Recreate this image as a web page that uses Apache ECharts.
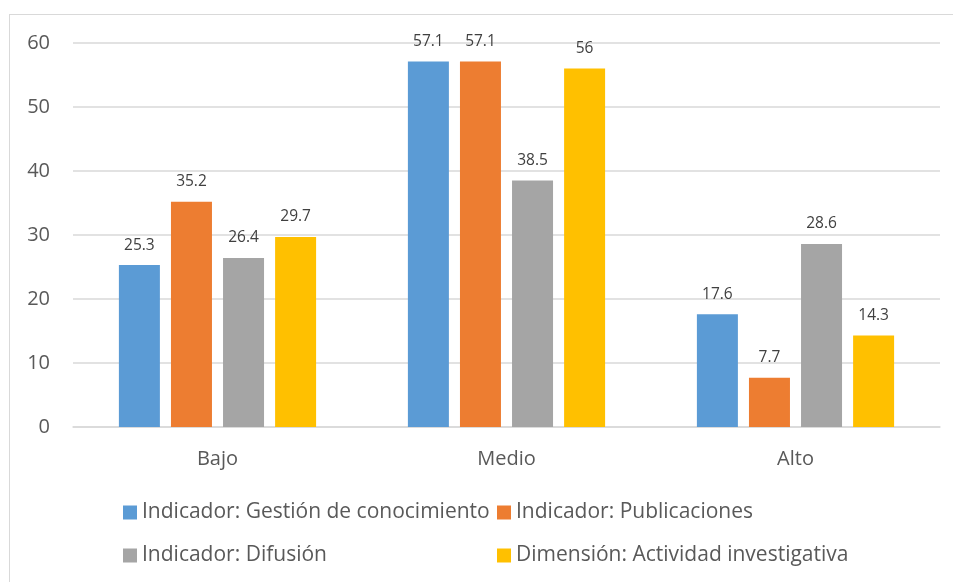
<!DOCTYPE html>
<html>
<head>
<meta charset="utf-8">
<script src="https://cdn.jsdelivr.net/npm/echarts@6/dist/echarts.min.js"></script>
<style>
  html, body { margin: 0; padding: 0; background: #fff; }
  #frame { position: absolute; left: 9px; top: 14px; width: 960px; height: 600px; border: 1px solid #d9d9d9; box-sizing: border-box; }
  #chart { position: absolute; left: 0; top: 0; width: 953px; height: 582px; }
</style>
</head>
<body>
<div id="frame"></div>
<div id="chart"></div>
<script>
const categories = ['Bajo', 'Medio', 'Alto'];
const seriesNames = [
  'Indicador: Gestión de conocimiento',
  'Indicador: Publicaciones',
  'Indicador: Difusión',
  'Dimensión: Actividad investigativa'
];
const gestion = [25.3, 57.1, 17.6];
const publicaciones = [35.2, 57.1, 7.7];
const difusion = [26.4, 38.5, 28.6];
const actividad = [29.7, 56, 14.3];
const colors = ['#5B9BD5', '#ED7D31', '#A5A5A5', '#FFC000'];
const yTicks = { min: 0, max: 60, interval: 10 };

const font = 'Open Sans';
const values = [gestion, publicaciones, difusion, actividad];

const chart = echarts.init(document.getElementById('chart'));
chart.setOption({
  animation: false,
  textStyle: { fontFamily: font },
  grid: { left: 73, right: 13, top: 43, bottom: 155 },
  legend: [
    {
      data: [seriesNames[0], seriesNames[2]],
      orient: 'vertical', left: 118, top: 497, itemGap: 22,
      itemWidth: 14, itemHeight: 14, icon: 'rect',
      textStyle: { fontSize: 21, color: '#595959', fontFamily: font }
    },
    {
      data: [seriesNames[1], seriesNames[3]],
      orient: 'vertical', left: 492, top: 497, itemGap: 22,
      itemWidth: 14, itemHeight: 14, icon: 'rect',
      textStyle: { fontSize: 21, color: '#595959', fontFamily: font }
    }
  ],
  xAxis: {
    type: 'category',
    data: categories,
    axisLine: { lineStyle: { color: '#d9d9d9', width: 1.5 } },
    axisTick: { show: false },
    axisLabel: { fontSize: 20, color: '#595959', margin: 22 }
  },
  yAxis: {
    type: 'value',
    min: yTicks.min, max: yTicks.max, interval: yTicks.interval,
    axisLine: { show: false },
    axisTick: { show: false },
    axisLabel: { fontSize: 20, color: '#595959', margin: 23 },
    splitLine: { lineStyle: { color: '#d9d9d9', width: 1.5 } }
  },
  series: seriesNames.map((name, i) => ({
    name,
    type: 'bar',
    data: values[i],
    barWidth: 41,
    barGap: '27%',
    itemStyle: { color: colors[i] },
    label: {
      show: true, position: 'top', distance: 12,
      fontSize: 15.5, color: '#404040', fontFamily: font
    }
  }))
});
</script>
</body>
</html>
